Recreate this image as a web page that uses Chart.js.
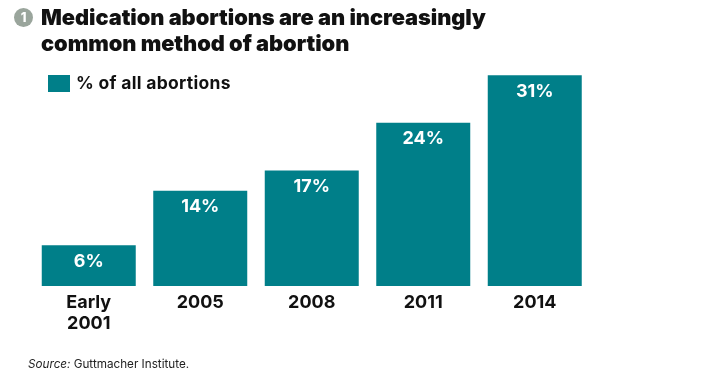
<!DOCTYPE html>
<html>
<head>
<meta charset="utf-8">
<script src="https://cdn.jsdelivr.net/npm/chart.js@4.4.1/dist/chart.umd.min.js"></script>
<style>
  html, body { margin: 0; padding: 0; background: #fff; }
  #wrap { position: relative; width: 710px; height: 375px; overflow: hidden; }
  #chart { position: absolute; left: 0; top: 0; }
  .title {
    position: absolute; left: 41px; top: 4px;
    font-family: Inter, sans-serif; font-weight: 900; font-size: 21.8px;
    line-height: 26px; color: #111; white-space: nowrap; letter-spacing: -0.05px;
  }
  .num {
    position: absolute; left: 14px; top: 8px; width: 19px; height: 19px;
    border-radius: 50%; background: #9aa59c; color: #fff;
    font-family: Inter, sans-serif; font-weight: 800; font-size: 13px;
    line-height: 19px; text-align: center;
  }
  .legend { position: absolute; left: 48px; top: 75px; height: 17px; }
  .legend .box { position: absolute; left: 0; top: 0; width: 22px; height: 17px; background: #007f89; }
  .legend .txt {
    position: absolute; left: 28px; top: -3px; white-space: nowrap;
    font-family: Inter, sans-serif; font-weight: 700; font-size: 17.5px; color: #111;
    letter-spacing: 0.3px;
  }
  .source {
    position: absolute; left: 28px; top: 357px;
    font-family: Inter, sans-serif; font-size: 11.7px; color: #222;
  }
</style>
</head>
<body>
<div id="wrap">
  <canvas id="chart" width="710" height="375"></canvas>
  <div class="num">1</div>
  <div class="title">Medication abortions are an increasingly<br>common method of abortion</div>
  <div class="legend"><div class="box"></div><div class="txt">% of all abortions</div></div>
  <div class="source"><i>Source:</i> Guttmacher Institute.</div>
</div>
<script>
const categories = [['Early', '2001'], '2005', '2008', '2011', '2014'];
const shares = [6, 14, 17, 24, 31];
const seriesName = '% of all abortions';

const teal = '#007f89';

// white % labels just under the top of each bar
const valueLabels = {
    id: 'valueLabels',
    afterDatasetsDraw(chart) {
        const ctx = chart.ctx;
        const meta = chart.getDatasetMeta(0);
        ctx.save();
        ctx.fillStyle = '#fff';
        ctx.font = 'bold 18px Inter, sans-serif';
        ctx.textAlign = 'center';
        ctx.textBaseline = 'middle';
        meta.data.forEach(function (bar, i) {
            ctx.fillText(shares[i] + '%', bar.x, bar.y + 16);
        });
        ctx.restore();
    }
};

const ctx = document.getElementById('chart').getContext('2d');
new Chart(ctx, {
    type: 'bar',
    data: {
        labels: categories,
        datasets: [{
            label: seriesName,
            data: shares,
            backgroundColor: teal,
            borderWidth: 0,
            barPercentage: 0.843,
            categoryPercentage: 1
        }]
    },
    options: {
        responsive: false,
        animation: false,
        layout: { padding: { left: 33, right: 119.5, top: 68.4, bottom: 0 } },
        plugins: {
            legend: { display: false },
            tooltip: { enabled: false }
        },
        scales: {
            x: {
                grid: { display: false, drawTicks: false },
                border: { display: false },
                ticks: {
                    color: '#111',
                    padding: 6,
                    font: { family: 'Inter, sans-serif', weight: 'bold', size: 18, lineHeight: 1.17 }
                },
                afterFit: function (scale) { scale.height = 89; }
            },
            y: {
                display: false,
                min: 0,
                max: 32
            }
        }
    },
    plugins: [valueLabels]
});
</script>
</body>
</html>
